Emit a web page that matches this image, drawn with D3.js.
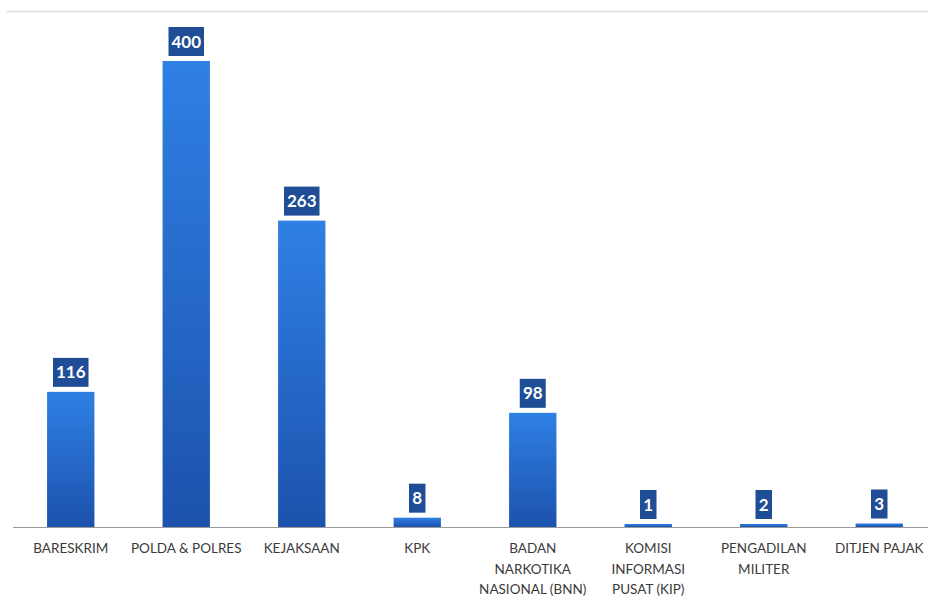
<!DOCTYPE html>
<html>
<head>
<meta charset="utf-8">
<script src="https://cdn.jsdelivr.net/npm/d3@7"></script>
<style>
  body { margin: 0; background: #fff; }
  svg { display: block; }
</style>
</head>
<body>
<svg id="chart" width="928" height="597"></svg>
<script>
// Data
const categories = ['BARESKRIM', 'POLDA & POLRES', 'KEJAKSAAN', 'KPK', 'BADAN NARKOTIKA NASIONAL (BNN)',
  'KOMISI INFORMASI PUSAT (KIP)', 'PENGADILAN MILITER', 'DITJEN PAJAK'];
// how the category labels are broken into lines
const categoryLines = [['BARESKRIM'], ['POLDA & POLRES'], ['KEJAKSAAN'], ['KPK'],
  ['BADAN', 'NARKOTIKA', 'NASIONAL (BNN)'], ['KOMISI', 'INFORMASI', 'PUSAT (KIP)'],
  ['PENGADILAN', 'MILITER'], ['DITJEN PAJAK']];
const values = [116, 400, 263, 8, 98, 1, 2, 3];

const svg = d3.select('#chart'),
  margin = {top: 61, right: 0, bottom: 70, left: 13},
  baseY = 527;

const x = d3.scaleBand().domain(categories).range([13, 937]).paddingInner(0.59).paddingOuter(0.295);
const y = d3.scaleLinear().domain([0, 400]).range([baseY, margin.top]);

// gradient for bars
const defs = svg.append('defs');
const grad = defs.append('linearGradient').attr('id', 'barGrad')
  .attr('x1', 0).attr('y1', 0).attr('x2', 0).attr('y2', 1);
grad.append('stop').attr('offset', '0%').attr('stop-color', '#2f80e4');
grad.append('stop').attr('offset', '100%').attr('stop-color', '#1c52ad');

// top frame line
svg.append('line').attr('x1', 7).attr('x2', 928).attr('y1', 11.5).attr('y2', 11.5)
  .attr('stroke', '#dcdcdc').attr('stroke-width', 1.5);

// bars (small values still get a visible sliver)
svg.append('g').selectAll('rect')
  .data(values)
  .enter().append('rect')
  .attr('x', (d, i) => x(categories[i]))
  .attr('y', d => Math.min(y(d), baseY - 3))
  .attr('width', x.bandwidth())
  .attr('height', d => Math.max(baseY - y(d), 3))
  .attr('fill', 'url(#barGrad)');

// axis line
svg.append('line').attr('x1', 13).attr('x2', 928).attr('y1', baseY + 0.5).attr('y2', baseY + 0.5)
  .attr('stroke', '#9a9a9a').attr('stroke-width', 1.2);

// value labels
const lab = svg.append('g').selectAll('g')
  .data(values)
  .enter().append('g')
  .attr('transform', (d, i) => `translate(${x(categories[i]) + x.bandwidth() / 2},${Math.min(y(d), baseY - 3) - 5})`);
lab.append('rect')
  .attr('x', d => -(String(d).length * 9.5 + 7) / 2)
  .attr('y', -29)
  .attr('width', d => String(d).length * 9.5 + 7)
  .attr('height', 29)
  .attr('fill', '#1f4e96');
lab.append('text')
  .attr('y', -8.5)
  .attr('text-anchor', 'middle')
  .attr('fill', '#fff')
  .attr('font-family', 'Lato, sans-serif')
  .attr('font-weight', 'bold')
  .attr('font-size', '17px')
  .text(d => d);

// category labels
const cat = svg.append('g').selectAll('text')
  .data(categories)
  .enter().append('text')
  .attr('x', d => x(d) + x.bandwidth() / 2)
  .attr('y', 553)
  .attr('text-anchor', 'middle')
  .attr('fill', '#3a3a3a')
  .attr('font-family', 'Lato, sans-serif')
  .attr('font-size', '13.5px');
cat.each(function(d, i) {
  d3.select(this).selectAll('tspan').data(categoryLines[i]).enter().append('tspan')
    .attr('x', x(d) + x.bandwidth() / 2)
    .attr('dy', (l, j) => j === 0 ? 0 : 20.5)
    .text(l => l);
});
</script>
</body>
</html>
